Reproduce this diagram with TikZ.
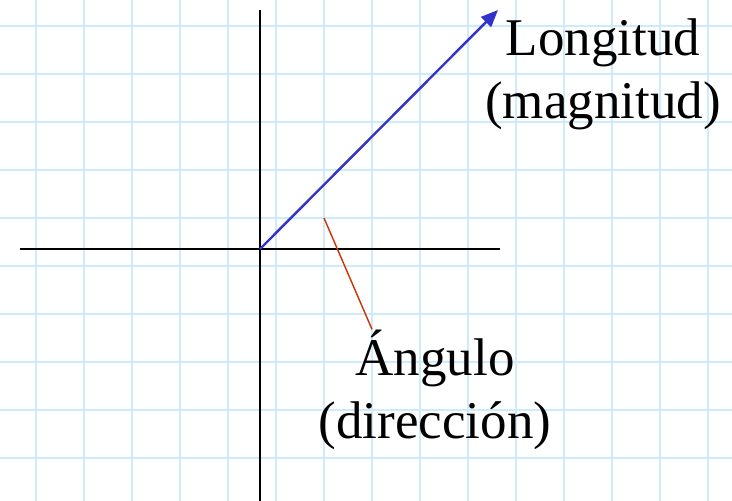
\documentclass[tikz,border=0pt]{standalone}
\usepackage{fontspec}
\setmainfont{Liberation Serif}
\usetikzlibrary{calc,arrows.meta}
\definecolor{gridblue}{HTML}{CDEBFB}
\definecolor{vecblue}{HTML}{3333CC}
\definecolor{angred}{HTML}{CC3300}

\begin{document}
\begin{tikzpicture}[x=1pt, y=-1pt,
    gridline/.style={draw=gridblue, line width=2pt},
    axis/.style={draw=black, line width=1.8pt},
    vector/.style={-{Triangle[length=17pt, width=14pt]}, draw=vecblue, fill=vecblue, line width=2.4pt},
    pointer/.style={draw=angred, line width=1.4pt},
    label/.style={font=\fontsize{53}{63}\selectfont, align=center, inner sep=0pt, anchor=base}
  ]
    % page (732 x 501, one unit = one pixel, y downwards)
    \useasboundingbox[fill=white] (0,0) rectangle (732,501);

    % squared paper, step 48
    \foreach \x in {36,84,...,708}
      \draw[gridline] (\x,0) -- (\x,501);
    \foreach \y in {26,74,...,458}
      \draw[gridline] (0,\y) -- (732,\y);

    % axes
    \coordinate (origin) at (260,249);
    \coordinate (xleft)  at (20,249);
    \coordinate (xright) at (500,249);
    \coordinate (ytop)   at (260,10);
    \coordinate (ybot)   at (260,501);
    \draw[axis] (xleft) -- (xright);
    \draw[axis] (ytop) -- (ybot);

    % labels (base = last line)
    \node[label] (longitud) at (603,118) {Longitud\\(magnitud)};
    \node[label] (angulo)   at (435,438) {Ángulo\\(dirección)};

    % vector and angle pointer
    \coordinate (tip)   at (498,10);
    \coordinate (angpt) at (324,218);
    \draw[vector] (origin) -- (tip);
    \draw[pointer] (angpt) -- ([xshift=-63pt]angulo.north);
  \end{tikzpicture}
\end{document}
